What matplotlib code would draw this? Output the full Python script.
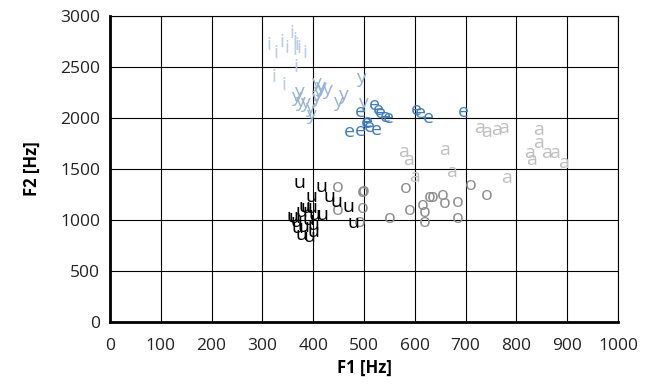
import matplotlib
matplotlib.use("Agg")
import matplotlib.pyplot as plt

plt.rcParams['font.family'] = ['Open Sans', 'DejaVu Sans']

# F1 / F2 values (Hz) for each vowel
i_f1 = [312, 327, 339, 349, 359, 364, 368, 372, 365, 383, 366, 323, 343]
i_f2 = [2713, 2631, 2745, 2680, 2827, 2762, 2713, 2680, 2663, 2631, 2500, 2402, 2320]

y_f1 = [372, 373, 383, 393, 396, 406, 409, 416, 427, 406, 449, 459, 493, 497, 367, 413]
y_f2 = [2255, 2157, 2141, 2092, 2026, 2337, 2255, 2288, 2271, 2190, 2157, 2222, 2386, 2141, 2206, 2304]

e_f1 = [492, 521, 528, 533, 543, 547, 603, 610, 626, 695, 472, 492, 505, 511, 524, 506]
e_f2 = [2059, 2125, 2080, 2043, 2010, 1994, 2076, 2043, 1994, 2059, 1863, 1870, 1945, 1912, 1880, 1961]

a_f1 = [577, 587, 600, 659, 672, 728, 741, 761, 774, 780, 843, 843, 826, 830, 859, 875, 892]
a_f2 = [1667, 1585, 1422, 1683, 1471, 1896, 1863, 1880, 1896, 1406, 1880, 1749, 1651, 1585, 1651, 1651, 1553]

o_f1 = [449, 449, 498, 500, 498, 492, 551, 583, 590, 616, 620, 620, 629, 636, 656, 659, 685, 685, 711, 741]
o_f2 = [1323, 1095, 1275, 1280, 1112, 980, 1014, 1308, 1095, 1144, 1078, 980, 1225, 1225, 1242, 1160, 1177, 1014, 1340, 1242]

u_f1 = [373, 416, 396, 432, 446, 469, 480, 419, 403, 396, 383, 377, 360, 367, 370, 377, 393, 400, 400, 390, 387, 364, 380]
u_f2 = [1357, 1323, 1225, 1225, 1177, 1128, 965, 1046, 1046, 1112, 1128, 1078, 1029, 980, 915, 850, 833, 882, 948, 997, 1112, 1014, 931]

vowels = [
    ('i', i_f1, i_f2, '#b8cce4'),
    ('y', y_f1, y_f2, '#95b3d7'),
    ('e', e_f1, e_f2, '#3f7cc6'),
    ('a', a_f1, a_f2, '#bfbfbf'),
    ('o', o_f1, o_f2, '#8c8c8c'),
    ('u', u_f1, u_f2, '#000000'),
]

fig = plt.figure(figsize=(6.5, 3.86), dpi=100)
ax = fig.add_axes([0.169, 0.1666, 0.782, 0.7925])

for letter, xs, ys, col in vowels:
    for x, y in zip(xs, ys):
        ax.text(x, y, letter, color=col, fontsize=14, ha='center', va='center')

ax.set_xlim(0, 1000)
ax.set_ylim(0, 3000)
ax.set_xticks(range(0, 1001, 100))
ax.set_yticks(range(0, 3001, 500))
ax.grid(True, color='black', linewidth=0.8)
ax.set_axisbelow(True)
for side in ['top', 'right']:
    ax.spines[side].set_linewidth(0.8)
for side in ['left', 'bottom']:
    ax.spines[side].set_linewidth(2)
ax.tick_params(axis='both', length=0, labelsize=12.5, colors='#222222')
ax.tick_params(axis='x', pad=12)
ax.tick_params(axis='y', pad=7)

ax.set_xlabel('F1 [Hz]', fontsize=12, fontweight='bold', labelpad=3)
ax.set_ylabel('F2 [Hz]', fontsize=12, fontweight='bold', labelpad=14)

fig.savefig('out.png', dpi=100)
